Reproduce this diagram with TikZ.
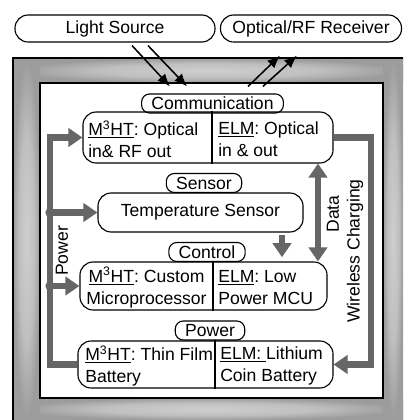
\documentclass[tikz,border=0pt]{standalone}
\usepackage{fontspec}
\setmainfont{Liberation Sans}
\usetikzlibrary{arrows.meta, calc}
\definecolor{flowgray}{RGB}{102,102,102}
\pgfdeclareradialshading{ridge}{\pgfpoint{0bp}{0bp}}{color(0bp)=(gray!38); color(14bp)=(gray!50); color(25bp)=(gray!78); color(50bp)=(gray!78)}
\frenchspacing

\begin{document}
\begin{tikzpicture}[x=0.025cm, y=-0.025cm,
  every node/.style={font=\fontsize{12.5pt}{15.6pt}\selectfont},
  ends/.style={draw, line width=0.8pt, rounded corners=0.33cm, minimum height=0.675cm, inner sep=0pt},
  unit/.style={draw, line width=0.8pt, rounded corners=0.33cm, inner sep=0pt},
  tag/.style={draw, line width=0.8pt, rounded corners=0.2cm, minimum height=0.475cm, inner xsep=7pt, inner ysep=0pt},
  txt/.style={inner sep=0pt, align=left, anchor=west},
  beam/.style={line width=1.1pt, -{Latex[length=9pt, width=7.5pt]}},
  flow/.style={draw=flowgray, line width=4.8pt, -{Triangle[length=10pt, width=13pt]}}]
  \useasboundingbox (0,0) rectangle (403,420);

  % Frame
  \fill[gray!78] (13,58) rectangle (403,420);
  \shade[shading=ridge] (13,58) rectangle (403,83);
  \shade[shading=ridge] (13,398) rectangle (403,420);
  \shade[shading=ridge] (13,58) rectangle (40,420);
  \shade[shading=ridge] (383,58) rectangle (403,420);
  \draw[line width=0.8pt] (13,420) -- (13,58) -- (403,58);
  \draw[fill=white, line width=0.8pt] (40,83) rectangle (383,398);

  % Outside
  \node[ends, minimum width=5cm] (src) at (115,28.5) {Light Source};
  \node[ends, minimum width=4.525cm] (rcv) at (311,28.5) {Optical/RF Receiver};

  % Communication
  \node[tag] (commtag) at (212.5,103.5) {Communication};
  \node[unit, minimum width=6.25cm, minimum height=1.275cm] (comm) at (208,137.5) {};
  \node[txt] (commL) at (88,139) {\underline{M\textsuperscript{3}HT}: Optical\\in\& RF out};
  \node[txt] (commR) at (218,139) {\underline{ELM}: Optical\\in \& out};
  \coordinate (cdiv) at (212,0);
  \draw[line width=0.8pt] (comm.north -| cdiv) -- (comm.south -| cdiv);

  % Sensor
  \node[tag] (senstag) at (204,183) {Sensor};
  \node[unit, minimum width=5.125cm, minimum height=0.975cm] (temp) at (200.5,212.5) {Temperature Sensor};

  % Control
  \node[tag] (ctrltag) at (207,252) {Control};
  \node[unit, minimum width=6.175cm, minimum height=1.2cm] (ctrl) at (203.5,286) {};
  \node[inner sep=0pt, align=center] (ctrlL) at (146.5,287.5) {\underline{M\textsuperscript{3}HT}: Custom\\Microprocessor};
  \node[txt] (ctrlR) at (218,287.5) {\underline{ELM}: Low\\Power MCU};
  \coordinate (kdiv) at (213,0);
  \draw[line width=0.8pt] (ctrl.north -| kdiv) -- (ctrl.south -| kdiv);

  % Power
  \node[tag] (pwrtag) at (210,330.5) {Power};
  \node[unit, minimum width=6.375cm, minimum height=1.175cm] (batt) at (205.5,364.5) {};
  \node[txt] (battL) at (85,366) {\underline{M\textsuperscript{3}HT}: Thin Film\\Battery};
  \node[txt] (battR) at (220,366) {\underline{ELM:\ }Lithium\\Coin Battery};
  \coordinate (bdiv) at (215,0);
  \draw[line width=0.8pt] (batt.north -| bdiv) -- (batt.south -| bdiv);

  % Light in, signal out
  \draw[beam] ($(src.south)+(17,3)$) -- ($(commtag.north)+(-42.5,-7)$);
  \draw[beam] ($(src.south)+(33,3)$) -- ($(commtag.north)+(-25.5,-7)$);
  \draw[beam] ($(commtag.north)+(35.5,-7)$) -- ($(rcv.south)+(-31,13)$);
  \draw[beam] ($(commtag.north)+(50.5,-7)$) -- ($(rcv.south)+(-14,13)$);

  % Power bus
  \coordinate (bus) at (50,0);
  \draw[flow] (batt.west) -- (bus |- batt.west) -- (bus |- comm.west) -- (comm.west);
  \draw[flow] (bus |- temp.west) -- (temp.west);
  \draw[flow] (bus |- ctrl.west) -- (ctrl.west);
  \fill[flowgray] (bus |- temp.west) circle (3.3pt);
  \fill[flowgray] (bus |- ctrl.west) circle (3.3pt);
  \node[rotate=90] (pwrtxt) at (62,251) {Power};

  % Wireless charging
  \coordinate (wc) at (371,0);
  \draw[flow] (comm.east) -- (wc |- comm.east) -- (wc |- batt.east) -- (batt.east);
  \node[rotate=90] (wctxt) at (355,251) {Wireless Charging};

  % Data
  \coordinate (dx) at (318,0);
  \draw[flow, {Triangle[length=10pt, width=13pt]}-{Triangle[length=10pt, width=13pt]}] (comm.south -| dx) -- (ctrl.north -| dx);
  \node[rotate=90] (datatxt) at (333,214) {Data};

  % Sensor to control
  \coordinate (tx) at (282,0);
  \draw[flow, shorten <=2pt, shorten >=3pt] (temp.south -| tx) -- (ctrl.north -| tx);
\end{tikzpicture}
\end{document}
